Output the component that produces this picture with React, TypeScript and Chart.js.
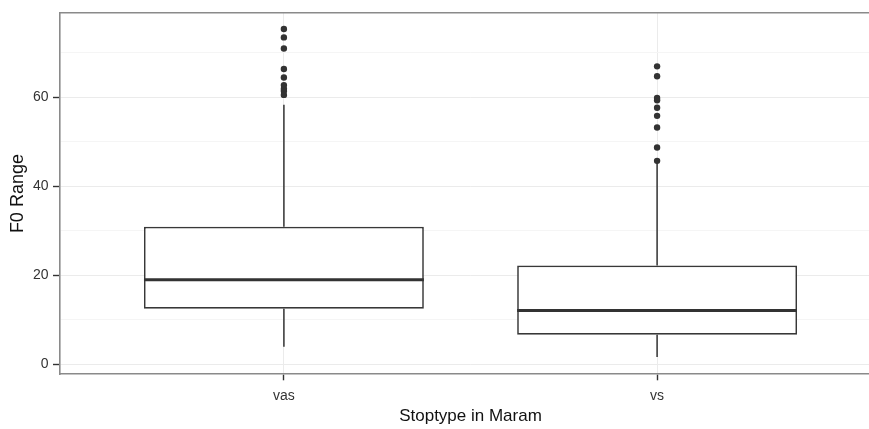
import React, { useEffect, useRef } from 'react';
import { Chart, registerables } from 'chart.js';

Chart.register(...registerables);

// ---- data ----
const categories = ['vas', 'vs'];
const positions = [1, 2];
const lowerWhisker = [4.0, 1.7];
const q1 = [12.5, 6.7];
const median = [19.0, 12.1];
const q3 = [30.9, 22.2];
const upperWhisker = [58.3, 45.5];
const outliersVas = [60.5, 61.4, 61.9, 62.7, 64.4, 66.3, 70.9, 73.4, 75.3];
const outliersVs = [45.7, 48.7, 53.2, 55.8, 57.6, 59.3, 59.8, 64.7, 66.9];
const yTickValues = [0, 10, 20, 30, 40, 50, 60, 70];
const yLabelValues = [0, 20, 40, 60];
const yAxisMin = -2.2;
const yAxisMax = 78.9;
const xAxisMin = 0.4;
const xAxisMax = 2.6;
const boxWidth = 0.75;

const FONT = "'Liberation Sans', Arial, sans-serif";

export default function App() {
  const canvasRef = useRef<HTMLCanvasElement | null>(null);

  useEffect(() => {
    if (!canvasRef.current) return;
    const outliers = [outliersVas, outliersVs];

    const boxData = positions.map((x, i) => ({ x, y: [q1[i], q3[i]] }));
    const whiskerData: any[] = [];
    positions.forEach((x, i) => {
      whiskerData.push({ x, y: q3[i] }, { x, y: upperWhisker[i] }, { x, y: null });
      whiskerData.push({ x, y: lowerWhisker[i] }, { x, y: q1[i] }, { x, y: null });
    });
    const medianData: any[] = [];
    positions.forEach((x, i) => {
      medianData.push(
        { x: x - boxWidth / 2, y: median[i] },
        { x: x + boxWidth / 2, y: median[i] },
        { x, y: null }
      );
    });
    const outlierData: any[] = [];
    positions.forEach((x, i) => {
      outliers[i].forEach((v) => outlierData.push({ x, y: v }));
    });

    const chart = new Chart(canvasRef.current, {
      type: 'bar',
      data: {
        datasets: [
          {
            type: 'bar',
            data: boxData as any,
            backgroundColor: '#ffffff',
            borderColor: '#383838',
            borderWidth: 1.7,
            borderSkipped: false,
            categoryPercentage: 1,
            barPercentage: boxWidth,
            order: 3,
          } as any,
          {
            type: 'line',
            data: whiskerData,
            borderColor: '#333333',
            borderWidth: 1.5,
            pointRadius: 0,
            spanGaps: false,
            fill: false,
            order: 2,
          } as any,
          {
            type: 'line',
            data: medianData,
            borderColor: '#333333',
            borderWidth: 3,
            pointRadius: 0,
            spanGaps: false,
            fill: false,
            order: 1,
          } as any,
          {
            type: 'scatter',
            data: outlierData,
            pointRadius: 3.2,
            pointBackgroundColor: '#333333',
            pointBorderWidth: 0,
            order: 0,
          } as any,
        ],
      },
      options: {
        animation: false,
        responsive: true,
        maintainAspectRatio: false,
        layout: { padding: { top: 10, right: 5, bottom: 0, left: 0 } },
        plugins: {
          legend: { display: false },
          tooltip: { enabled: false },
        },
        scales: {
          x: {
            type: 'linear',
            position: 'bottom',
            min: xAxisMin,
            max: xAxisMax,
            offset: false,
            afterBuildTicks: (scale: any) => {
              scale.ticks = positions.map((v) => ({ value: v }));
            },
            afterFit: (scale: any) => {
              scale.height = 54.7;
            },
            ticks: {
              autoSkip: false,
              maxRotation: 0,
              padding: 7,
              color: '#333333',
              font: { family: FONT, size: 14 },
              callback: (value: any) => {
                const idx = positions.indexOf(Number(value));
                return idx >= 0 ? categories[idx] : '';
              },
            },
            grid: {
              offset: false,
              color: '#EBEBEB',
              lineWidth: 1,
              drawTicks: true,
              tickLength: 6,
              tickColor: '#333333',
              tickWidth: 1.4,
            },
            border: { display: true, color: '#8A8A8A', width: 1.6 },
            title: {
              display: true,
              text: 'Stoptype in Maram',
              color: '#111111',
              font: { family: FONT, size: 17 },
              padding: { top: 1, bottom: 2 },
            },
          },
          x2: {
            type: 'linear',
            position: 'top',
            min: xAxisMin,
            max: xAxisMax,
            offset: false,
            afterFit: (scale: any) => {
              scale.height = 0;
            },
            ticks: { display: false },
            grid: { display: false, drawTicks: false, tickLength: 0 },
            border: { display: true, color: '#8A8A8A', width: 1.6 },
          },
          y: {
            type: 'linear',
            position: 'left',
            min: yAxisMin,
            max: yAxisMax,
            afterBuildTicks: (scale: any) => {
              scale.ticks = yTickValues.map((v) => ({ value: v }));
            },
            afterFit: (scale: any) => {
              scale.width = 60;
            },
            ticks: {
              autoSkip: false,
              padding: 4.5,
              color: '#333333',
              font: { family: FONT, size: 14 },
              callback: (value: any) =>
                yLabelValues.includes(Number(value)) ? String(value) : '',
            },
            grid: {
              color: (ctx: any) =>
                yLabelValues.includes(ctx.tick?.value) ? '#EBEBEB' : '#F5F5F5',
              lineWidth: 1,
              drawTicks: true,
              tickLength: 7,
              tickColor: (ctx: any) =>
                yLabelValues.includes(ctx.tick?.value) ? '#333333' : 'rgba(0,0,0,0)',
              tickWidth: 1.4,
            },
            border: { display: true, color: '#8A8A8A', width: 1.6 },
            title: {
              display: true,
              text: 'F0 Range',
              color: '#111111',
              font: { family: FONT, size: 18 },
              padding: { top: 7.5, bottom: 2 },
            },
          },
        },
      } as any,
    });

    return () => chart.destroy();
  }, []);

  return (
    <div
      style={{
        position: 'absolute',
        left: 0,
        top: 0,
        width: 869,
        height: 429,
        overflow: 'hidden',
        background: '#ffffff',
      }}
    >
      <div style={{ position: 'relative', width: 886, height: 429 }}>
        <canvas ref={canvasRef} />
      </div>
    </div>
  );
}
